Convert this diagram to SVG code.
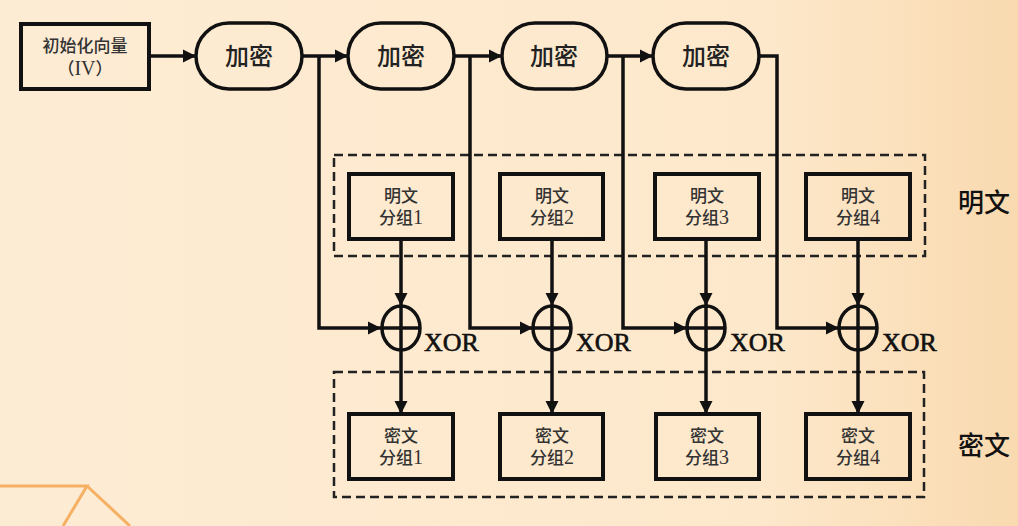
<svg xmlns="http://www.w3.org/2000/svg" width="1018" height="526" viewBox="0 0 1018 526">
<defs>
<linearGradient id="bg" x1="0" y1="0" x2="1" y2="0">
<stop offset="0" stop-color="#fdecd4"/>
<stop offset="0.75" stop-color="#fde8cb"/>
<stop offset="1" stop-color="#f9dab0"/>
</linearGradient>
<marker id="arr" markerUnits="userSpaceOnUse" markerWidth="14" markerHeight="14" refX="13" refY="7" orient="auto">
<path d="M0,0.5 L13,7 L0,13.5 z" fill="#111"/>
</marker>
<style>
.box{fill:none;stroke:#111;stroke-width:4}
.enc{fill:none;stroke:#111;stroke-width:3.5}
.dash{fill:none;stroke:#222;stroke-width:2.5;stroke-dasharray:9 5}
.ln{fill:none;stroke:#111;stroke-width:3.5}
.xc{fill:none;stroke:#111;stroke-width:3.5}
.t{font-family:"Liberation Serif","Noto Sans CJK SC",serif;font-weight:500;fill:#333;font-size:17px;text-anchor:middle}
.d{font-size:20px}
.te{font-family:"Noto Sans CJK SC",sans-serif;font-weight:500;fill:#222;font-size:24px;text-anchor:middle}
.tx{font-family:"Liberation Serif",serif;fill:#111;stroke:#111;stroke-width:0.6;font-size:26px}
.tl{font-family:"Noto Sans CJK SC",sans-serif;font-weight:500;fill:#111;font-size:26px;text-anchor:middle}
</style>
</defs>
<rect width="1018" height="526" fill="url(#bg)"/>
<g id="decor" fill="none" stroke="#f5b064" stroke-width="3">
<polyline points="0,486 87,486 63,526"/>
<line x1="87" y1="486" x2="130" y2="526"/>
</g>
<g id="groups">
<rect class="dash" x="334" y="155" width="591" height="101"/>
<rect class="dash" x="334" y="372" width="590" height="125"/>
</g>
<g id="connectors">
<line class="ln" x1="149" y1="56" x2="196" y2="56" marker-end="url(#arr)"/>
<line class="ln" x1="302" y1="56" x2="348" y2="56" marker-end="url(#arr)"/>
<line class="ln" x1="454" y1="56" x2="502" y2="56" marker-end="url(#arr)"/>
<line class="ln" x1="607" y1="56" x2="653" y2="56" marker-end="url(#arr)"/>
<polyline class="ln" points="319,56 319,328 381,328" marker-end="url(#arr)"/>
<polyline class="ln" points="470,56 470,328 533,328" marker-end="url(#arr)"/>
<polyline class="ln" points="623,56 623,328 687,328" marker-end="url(#arr)"/>
<polyline class="ln" points="759,56 777,56 777,328 839,328" marker-end="url(#arr)"/>
<line class="ln" x1="401" y1="239" x2="401" y2="306" marker-end="url(#arr)"/>
<line class="ln" x1="552" y1="239" x2="552" y2="306" marker-end="url(#arr)"/>
<line class="ln" x1="706" y1="239" x2="706" y2="306" marker-end="url(#arr)"/>
<line class="ln" x1="858" y1="239" x2="858" y2="306" marker-end="url(#arr)"/>
<line class="ln" x1="401" y1="350" x2="401" y2="414" marker-end="url(#arr)"/>
<line class="ln" x1="552" y1="350" x2="552" y2="414" marker-end="url(#arr)"/>
<line class="ln" x1="706" y1="350" x2="706" y2="414" marker-end="url(#arr)"/>
<line class="ln" x1="858" y1="350" x2="858" y2="414" marker-end="url(#arr)"/>
</g>
<g id="iv">
<rect class="box" x="21" y="24" width="128" height="65"/>
<text class="t" x="85" y="52">初始化向量</text>
<text class="t" x="85" y="75">（<tspan class="d">IV</tspan>）</text>
</g>
<g id="enc1"><rect class="enc" x="196" y="23" width="106" height="66" rx="33"/><text class="te" x="249" y="65">加密</text></g>
<g id="enc2"><rect class="enc" x="348" y="23" width="106" height="66" rx="33"/><text class="te" x="401" y="65">加密</text></g>
<g id="enc3"><rect class="enc" x="502" y="23" width="105" height="66" rx="33"/><text class="te" x="554" y="65">加密</text></g>
<g id="enc4"><rect class="enc" x="653" y="23" width="106" height="66" rx="33"/><text class="te" x="706" y="65">加密</text></g>
<g id="p1"><rect class="box" x="349" y="174" width="104" height="65"/><text class="t" x="401" y="202">明文</text><text class="t" x="401" y="224">分组<tspan class="d">1</tspan></text></g>
<g id="p2"><rect class="box" x="500" y="174" width="103" height="65"/><text class="t" x="552" y="202">明文</text><text class="t" x="552" y="224">分组<tspan class="d">2</tspan></text></g>
<g id="p3"><rect class="box" x="655" y="174" width="104" height="65"/><text class="t" x="707" y="202">明文</text><text class="t" x="707" y="224">分组<tspan class="d">3</tspan></text></g>
<g id="p4"><rect class="box" x="806" y="174" width="104" height="65"/><text class="t" x="858" y="202">明文</text><text class="t" x="858" y="224">分组<tspan class="d">4</tspan></text></g>
<g id="x1"><ellipse class="xc" cx="401" cy="328" rx="19" ry="22"/><line class="ln" x1="382" y1="328" x2="420" y2="328"/><line class="ln" x1="401" y1="306" x2="401" y2="350"/><text class="tx" x="424" y="351">XOR</text></g>
<g id="x2"><ellipse class="xc" cx="552" cy="328" rx="19" ry="22"/><line class="ln" x1="533" y1="328" x2="571" y2="328"/><line class="ln" x1="552" y1="306" x2="552" y2="350"/><text class="tx" x="576" y="351">XOR</text></g>
<g id="x3"><ellipse class="xc" cx="706" cy="328" rx="19" ry="22"/><line class="ln" x1="687" y1="328" x2="725" y2="328"/><line class="ln" x1="706" y1="306" x2="706" y2="350"/><text class="tx" x="730" y="351">XOR</text></g>
<g id="x4"><ellipse class="xc" cx="858" cy="328" rx="19" ry="22"/><line class="ln" x1="839" y1="328" x2="877" y2="328"/><line class="ln" x1="858" y1="306" x2="858" y2="350"/><text class="tx" x="882" y="351">XOR</text></g>
<g id="c1"><rect class="box" x="349" y="414" width="104" height="65"/><text class="t" x="401" y="442">密文</text><text class="t" x="401" y="464">分组<tspan class="d">1</tspan></text></g>
<g id="c2"><rect class="box" x="500" y="414" width="103" height="65"/><text class="t" x="552" y="442">密文</text><text class="t" x="552" y="464">分组<tspan class="d">2</tspan></text></g>
<g id="c3"><rect class="box" x="656" y="414" width="103" height="65"/><text class="t" x="707" y="442">密文</text><text class="t" x="707" y="464">分组<tspan class="d">3</tspan></text></g>
<g id="c4"><rect class="box" x="806" y="414" width="104" height="65"/><text class="t" x="858" y="442">密文</text><text class="t" x="858" y="464">分组<tspan class="d">4</tspan></text></g>
<g id="labels">
<text class="tl" x="984" y="212">明文</text>
<text class="tl" x="984" y="455">密文</text>
</g>
</svg>
